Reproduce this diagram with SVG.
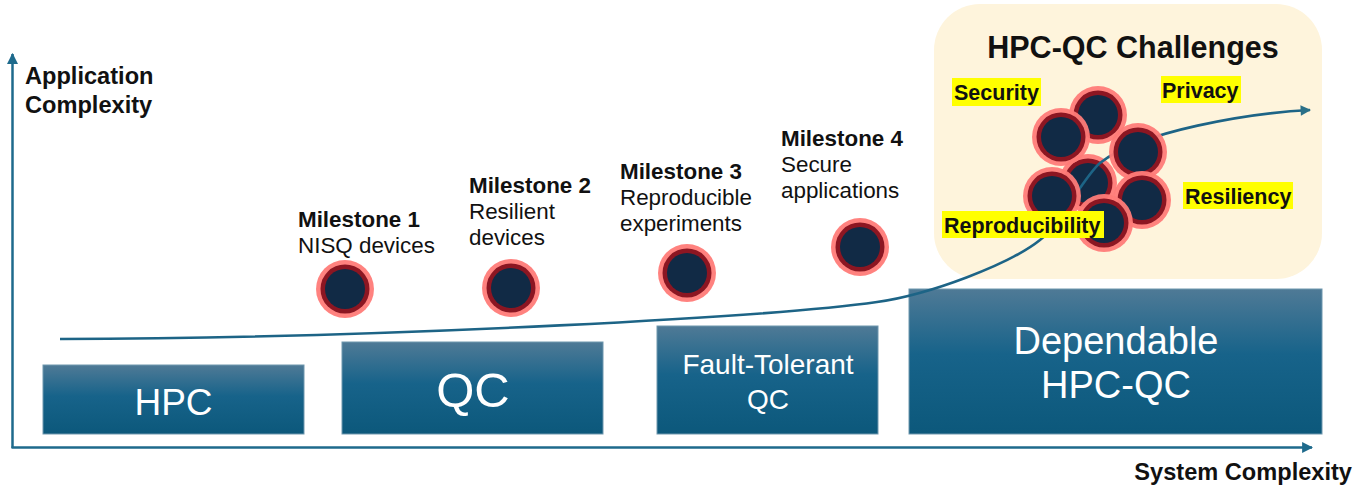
<svg xmlns="http://www.w3.org/2000/svg" xmlns:xlink="http://www.w3.org/1999/xlink" width="1369" height="486" viewBox="0 0 1369 486">
  <defs>
    <linearGradient id="boxGrad" x1="0" y1="0" x2="0" y2="1">
      <stop offset="0" stop-color="#4f7a96"/>
      <stop offset="0.45" stop-color="#17638a"/>
      <stop offset="1" stop-color="#0c587b"/>
    </linearGradient>
    <marker id="axisHead" viewBox="0 0 10 10" refX="9" refY="5" markerWidth="4.4" markerHeight="4.4" orient="auto" markerUnits="strokeWidth">
      <path d="M0,0 L10,5 L0,10 Z" fill="#1e6a8c"/>
    </marker>
    <marker id="curveHead" viewBox="0 0 10 10" refX="9" refY="5" markerWidth="4.4" markerHeight="4" orient="auto" markerUnits="strokeWidth">
      <path d="M0,0 L10,5 L0,10 Z" fill="#2a7088"/>
    </marker>
    <g id="dot">
      <circle r="29" fill="#ff7b78" fill-opacity="0.95"/>
      <circle r="24.5" fill="#8c1622"/>
      <circle r="20" fill="#112a45"/>
    </g>
  </defs>
  <style>
    text { font-family: "Liberation Sans", Arial, Helvetica, sans-serif; fill: #111111; }
    .bold { font-weight: bold; }
    .axislbl { font-size: 23.6px; font-weight: bold; }
    .ms { font-size: 22.4px; }
    .box { fill: url(#boxGrad); stroke: #6e97ae; stroke-width: 1; }
    .boxtxt { fill: #ffffff; text-anchor: middle; }
    .hl { fill: #ffff00; }
    .tag { font-size: 21.5px; font-weight: bold; }
    .axis { fill: none; stroke: #1e6a8c; stroke-width: 2.5; }
    .trend { fill: none; stroke: #1d6486; stroke-width: 2.6; }
  </style>

  <rect width="1369" height="486" fill="#ffffff"/>

  <!-- Challenges panel -->
  <g id="challenges-panel">
    <rect x="934" y="4" width="388" height="275" rx="46" ry="46" fill="#fef4dc"/>
    <text x="1133" y="58" class="bold" font-size="30.5" text-anchor="middle">HPC-QC Challenges</text>
  </g>

  <!-- Axes -->
  <g id="axes">
    <path class="axis" d="M12.5,448 L12.5,54" marker-end="url(#axisHead)"/>
    <path class="axis" d="M11.5,447.5 L1312,447.5" marker-end="url(#axisHead)"/>
    <text x="25" y="84" class="axislbl">Application</text>
    <text x="25" y="113" class="axislbl">Complexity</text>
    <text x="1352" y="480" class="axislbl" text-anchor="end">System Complexity</text>
  </g>

  <!-- Stage boxes -->
  <g id="node-hpc">
    <rect class="box" x="43" y="365" width="261" height="69"/>
    <text class="boxtxt" x="173.5" y="415" font-size="37">HPC</text>
  </g>
  <g id="node-qc">
    <rect class="box" x="342" y="342" width="261" height="92"/>
    <text class="boxtxt" x="473" y="407" font-size="49">QC</text>
  </g>
  <g id="node-ftqc">
    <rect class="box" x="657" y="326" width="221" height="108"/>
    <text class="boxtxt" x="768" y="374" font-size="28">Fault-Tolerant</text>
    <text class="boxtxt" x="768" y="409" font-size="28">QC</text>
  </g>
  <g id="node-dependable">
    <rect class="box" x="909" y="289" width="413" height="145"/>
    <text class="boxtxt" x="1116" y="354" font-size="38">Dependable</text>
    <text class="boxtxt" x="1116" y="398" font-size="38">HPC-QC</text>
  </g>

  <!-- Milestones -->
  <g id="node-milestone1">
    <use xlink:href="#dot" href="#dot" x="345" y="289"/>
    <text x="298" y="227" class="ms bold">Milestone 1</text>
    <text x="298" y="253" class="ms">NISQ devices</text>
  </g>
  <g id="node-milestone2">
    <use xlink:href="#dot" href="#dot" x="511" y="288"/>
    <text x="469" y="193" class="ms bold">Milestone 2</text>
    <text x="469" y="219" class="ms">Resilient</text>
    <text x="469" y="245" class="ms">devices</text>
  </g>
  <g id="node-milestone3">
    <use xlink:href="#dot" href="#dot" x="687" y="273"/>
    <text x="620" y="179" class="ms bold">Milestone 3</text>
    <text x="620" y="205" class="ms">Reproducible</text>
    <text x="620" y="231" class="ms">experiments</text>
  </g>
  <g id="node-milestone4">
    <use xlink:href="#dot" href="#dot" x="860" y="247"/>
    <text x="781" y="146" class="ms bold">Milestone 4</text>
    <text x="781" y="172" class="ms">Secure</text>
    <text x="781" y="198" class="ms">applications</text>
  </g>

  <!-- Challenge cluster (lower layer) -->
  <g id="node-cluster-back">
    <use xlink:href="#dot" href="#dot" x="1088" y="183"/>
  </g>

  <!-- Connectors -->
  <g id="connectors">
    <path class="trend" d="M60,339 C400,338 780,316 877,302 C930,294.6 1010,264 1040,240 C1060,224 1085,175 1100,163 C1140,131 1250,113 1310,110" marker-end="url(#curveHead)"/>
  </g>

  <!-- Challenge cluster (upper layer) -->
  <g id="node-cluster">
    <use xlink:href="#dot" href="#dot" x="1098" y="115"/>
    <use xlink:href="#dot" href="#dot" x="1061" y="137"/>
    <use xlink:href="#dot" href="#dot" x="1138" y="152"/>
    <use xlink:href="#dot" href="#dot" x="1142" y="200"/>
    <use xlink:href="#dot" href="#dot" x="1052" y="196"/>
    <use xlink:href="#dot" href="#dot" x="1104" y="223"/>
  </g>

  <!-- Challenge tags -->
  <g id="node-security">
    <rect class="hl" x="952" y="78" width="89" height="28"/>
    <text x="954" y="100" class="tag">Security</text>
  </g>
  <g id="node-privacy">
    <rect class="hl" x="1161" y="76" width="80" height="27"/>
    <text x="1162" y="98" class="tag">Privacy</text>
  </g>
  <g id="node-resiliency">
    <rect class="hl" x="1183" y="182" width="110" height="27"/>
    <text x="1185" y="204" class="tag">Resiliency</text>
  </g>
  <g id="node-reproducibility">
    <rect class="hl" x="942" y="211" width="162" height="27"/>
    <text x="944" y="233" class="tag">Reproducibility</text>
  </g>
</svg>
